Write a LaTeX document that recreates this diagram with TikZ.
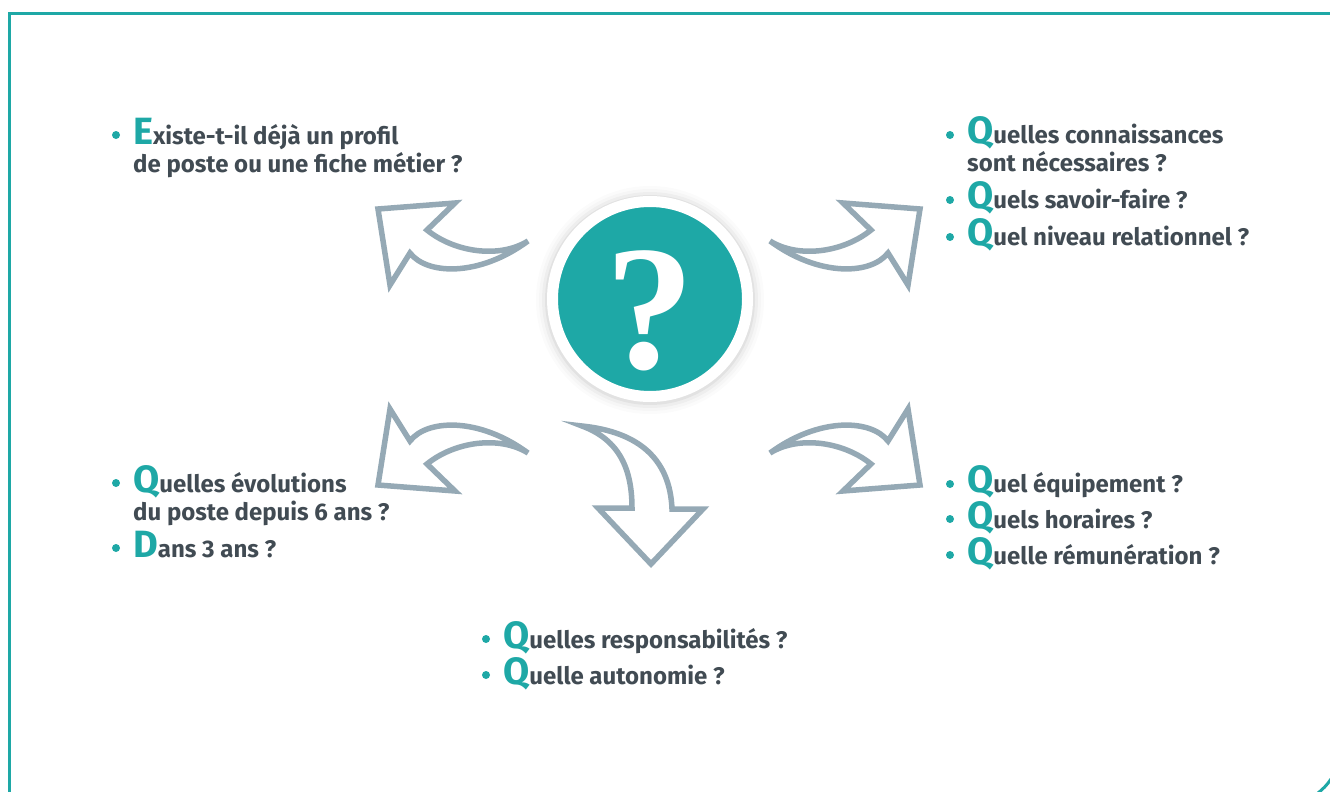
\documentclass[tikz,border=0pt]{standalone}
\usepackage{fontspec}
\setmainfont{Fira Sans}
\newfontfamily\qmarkfont{Liberation Serif}
\definecolor{qteal}{HTML}{1EA8A6}
\definecolor{qgrey}{HTML}{95A9B5}
\definecolor{qtext}{HTML}{414B53}
\newcommand{\initial}[1]{{\color{qteal}\fontsize{38}{38}\selectfont #1}}

\begin{document}
\begin{tikzpicture}[x=1pt,y=-1pt]
    \tikzstyle{frame line}=[qteal, line width=3pt]
    \tikzstyle{bend arrow}=[draw=qgrey, fill=white, line width=5.5pt, line join=miter]
    \tikzstyle{bullet}=[circle, fill=qteal, minimum size=8pt, inner sep=0pt]
    \tikzstyle{item}=[anchor=base west, align=left, inner sep=0pt, text=qtext, font=\fontsize{24}{28}\selectfont\bfseries]
    \useasboundingbox (0,0) rectangle (1330,792);
    % frame
    \draw [frame line] (9.5,792) -- (9.5,13.5) -- (1330,13.5);
    \draw [frame line] (1318,793) .. controls (1323,789) and (1327,785) .. (1331,779);
    % centre disc with shadow
    \foreach \r/\o in {114/0.015,111/0.02,108/0.03,105/0.05}
        \fill [black, opacity=\o] (650,300) circle [radius=\r pt];
    \node[circle, fill=qteal, draw=white, line width=11pt, minimum size=195pt, inner sep=0pt] (disc) at (650,299) {};
    \node[anchor=base, inner sep=0pt, text=white, font=\qmarkfont\bfseries\fontsize{178}{178}\selectfont] (qmark) at (650,368) {?};
    % four bent arrows, mirrored round the centre
    \begin{scope}[shift={(649,347)}]
        \path [bend arrow] (-121,-106) .. controls (-150,-88) and (-195,-95) .. (-222,-117) -- (-194,-144) -- (-271,-138) -- (-259,-62) -- (-239,-94) .. controls (-222,-72) and (-170,-70) .. (-121,-106) -- cycle;
    \end{scope}
    \begin{scope}[shift={(649,347)}, xscale=-1]
        \path [bend arrow] (-121,-106) .. controls (-150,-88) and (-195,-95) .. (-222,-117) -- (-194,-144) -- (-271,-138) -- (-259,-62) -- (-239,-94) .. controls (-222,-72) and (-170,-70) .. (-121,-106) -- cycle;
    \end{scope}
    \begin{scope}[shift={(649,347)}, yscale=-1]
        \path [bend arrow] (-121,-106) .. controls (-150,-88) and (-195,-95) .. (-222,-117) -- (-194,-144) -- (-271,-138) -- (-259,-62) -- (-239,-94) .. controls (-222,-72) and (-170,-70) .. (-121,-106) -- cycle;
    \end{scope}
    \begin{scope}[shift={(649,347)}, xscale=-1, yscale=-1]
        \path [bend arrow] (-121,-106) .. controls (-150,-88) and (-195,-95) .. (-222,-117) -- (-194,-144) -- (-271,-138) -- (-259,-62) -- (-239,-94) .. controls (-222,-72) and (-170,-70) .. (-121,-106) -- cycle;
    \end{scope}
    % arrow pointing down
    \path [bend arrow] (582,426) .. controls (620,440) and (632,470) .. (632,508) -- (598,508) -- (651,564) -- (703,509) -- (672,509) .. controls (670,460) and (640,432) .. (582,426) -- cycle;
    % top left
    \node[bullet] (TL_b1) at (116,135) {};
    \node[item] (TL_1) at (133,172) {\initial{E}xiste-t-il déjà un profil\\de poste ou une fiche métier ?};
    % top right
    \node[bullet] (TR_b1) at (950,135) {};
    \node[bullet] (TR_b2) at (950,200) {};
    \node[bullet] (TR_b3) at (950,237) {};
    \node[item] (TR_1) at (967,171) {\initial{Q}uelles connaissances\\sont nécessaires ?};
    \node[item] (TR_2) at (967,208) {\initial{Q}uels savoir-faire ?};
    \node[item] (TR_3) at (967,245) {\initial{Q}uel niveau relationnel ?};
    % left
    \node[bullet] (ML_b1) at (116,483) {};
    \node[bullet] (ML_b2) at (116,548) {};
    \node[item] (ML_1) at (133,520) {\initial{Q}uelles évolutions\\du poste depuis 6 ans ?};
    \node[item] (ML_2) at (133,557) {\initial{D}ans 3 ans ?};
    % right
    \node[bullet] (MR_b1) at (950,484) {};
    \node[bullet] (MR_b2) at (950,519) {};
    \node[bullet] (MR_b3) at (950,555) {};
    \node[item] (MR_1) at (967,492) {\initial{Q}uel équipement ?};
    \node[item] (MR_2) at (967,528) {\initial{Q}uels horaires ?};
    \node[item] (MR_3) at (967,564) {\initial{Q}uelle rémunération ?};
    % bottom
    \node[bullet] (B_b1) at (486,639) {};
    \node[bullet] (B_b2) at (486,675) {};
    \node[item] (B_1) at (503,648) {\initial{Q}uelles responsabilités ?};
    \node[item] (B_2) at (503,684) {\initial{Q}uelle autonomie ?};
  \end{tikzpicture}
\end{document}
